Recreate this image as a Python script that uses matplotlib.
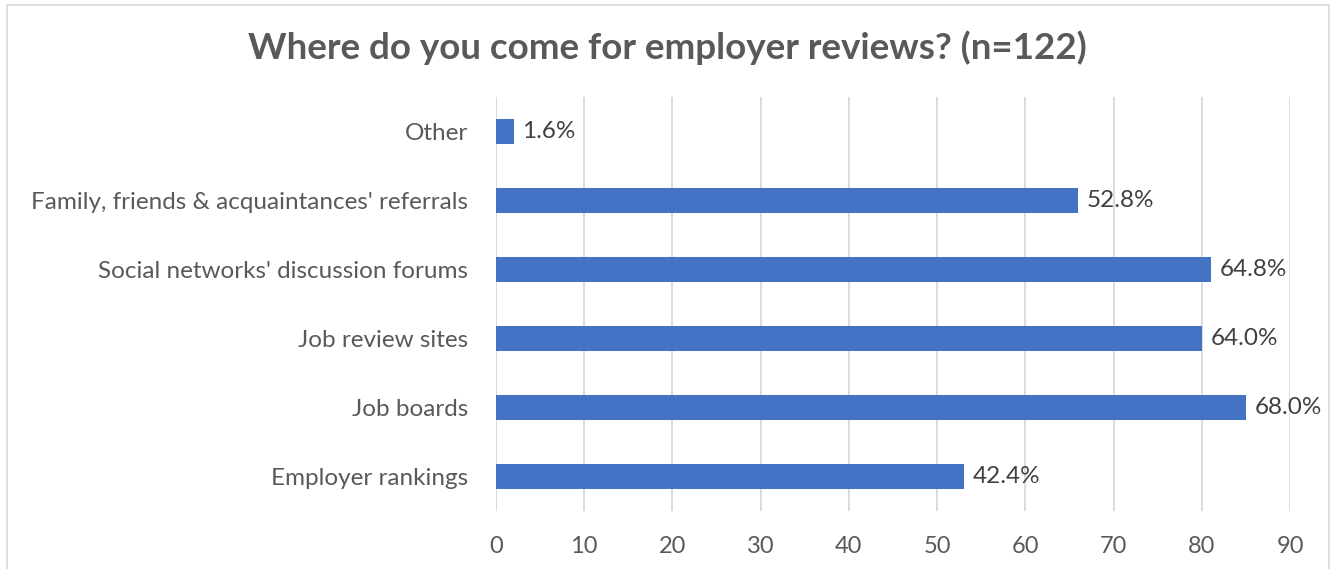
import matplotlib.pyplot as plt
from matplotlib.patches import Rectangle

plt.rcParams['font.family'] = ['Lato', 'DejaVu Sans']

# Survey answers, bottom to top
sources = ['Employer rankings', 'Job boards', 'Job review sites',
           "Social networks' discussion forums",
           "Family, friends & acquaintances' referrals", 'Other']
counts = [53, 85, 80, 81, 66, 2]
total = 125

ticks = [0, 10, 20, 30, 40, 50, 60, 70, 80, 90]

fig = plt.figure(figsize=(13.35, 5.69), dpi=100)
ax = fig.add_axes([0.3715, 0.102, 0.5948, 0.7275])

# light frame around the whole chart
fig.patches.append(Rectangle((0.0052, -0.01), 0.9903, 1.0012, transform=fig.transFigure,
                             fill=False, edgecolor='#D9D9D9', linewidth=1.2))

ypos = range(len(sources))
ax.barh(ypos, counts, height=0.35, color='#4472C4', zorder=3)

for y, c in zip(ypos, counts):
    ax.text(c + 1.0, y, f'{c / total * 100:.1f}%', va='center', ha='left',
            fontsize=17.5, color='#404040', zorder=4)

ax.set_xlim(0, 90)
ax.set_ylim(-0.5, len(sources) - 0.5)
ax.set_xticks(ticks)
ax.set_yticks(list(ypos))
ax.set_yticklabels(sources)
ax.tick_params(axis='x', length=0, pad=18, labelsize=17, labelcolor='#595959')
ax.tick_params(axis='y', length=0, pad=20, labelsize=17.5, labelcolor='#595959')
ax.grid(axis='x', color='#D9D9D9', linewidth=1.3, zorder=0)
ax.axvline(0, color='#D9D9D9', linewidth=1.3, zorder=1)
for s in ax.spines.values():
    s.set_visible(False)

fig.text(0.5, 0.917, 'Where do you come for employer reviews? (n=122)', ha='center',
         va='center', fontsize=26.5, fontweight='bold', color='#595959')

fig.savefig('out.png', dpi=100)
